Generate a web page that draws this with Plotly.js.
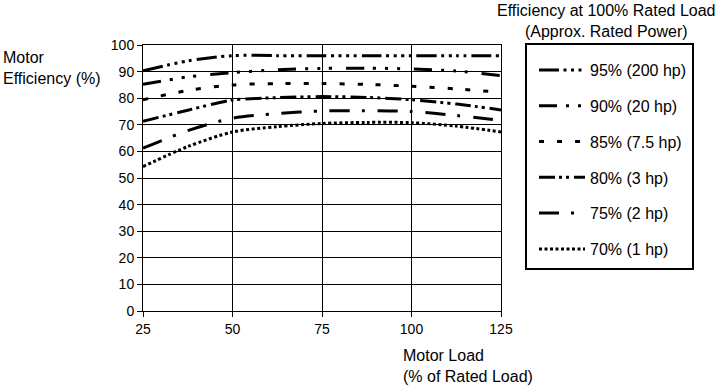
<!DOCTYPE html>
<html>
<head>
<meta charset="utf-8">
<script src="https://cdn.plot.ly/plotly-3.0.1.min.js"></script>
<style>html,body{margin:0;padding:0;background:#fff;}#chart{width:722px;height:385px;}</style>
</head>
<body>
<div id="chart"></div>
<script>
// Data
const motorLoad = [25, 37.5, 50, 62.5, 75, 87.5, 100, 112.5, 125];
const seriesNames = ["95% (200 hp)", "90% (20 hp)", "85% (7.5 hp)", "80% (3 hp)", "75% (2 hp)", "70% (1 hp)"];
const eff95 = [90.3, 94.0, 96.0, 96.0, 96.0, 96.0, 96.0, 96.0, 96.0];
const eff90 = [85.2, 88.0, 89.6, 90.7, 91.2, 91.3, 91.0, 90.2, 88.5];
const eff85 = [79.4, 82.9, 85.0, 85.5, 85.5, 85.2, 84.5, 83.5, 82.2];
const eff80 = [71.3, 75.5, 79.3, 80.2, 80.6, 80.3, 79.4, 77.8, 75.6];
const eff75 = [61.2, 67.8, 72.5, 74.2, 75.2, 75.3, 75.0, 73.5, 71.6];
const eff70 = [54.3, 61.8, 67.3, 69.3, 70.5, 70.9, 70.8, 69.5, 67.3];
const xTicks = [25, 50, 75, 100, 125];
const yTicks = [0, 10, 20, 30, 40, 50, 60, 70, 80, 90, 100];

const seriesValues = [eff95, eff90, eff85, eff80, eff75, eff70];
const dashes = [
  "20px,4.5px,3px,4.5px,3px,4.5px,3px,4.5px,3px,5px",
  "18px,9px,3px,9px,3px,9px,3px,14px",
  "5px,13px",
  "16px,4px,3px,4px,3px,5px",
  "20px,12px,3px,13px",
  "3px,2.5px"
];

const FONT = "Liberation Sans, Arial, Helvetica, sans-serif";

const traces = seriesValues.map((vals, i) => ({
  type: "scatter",
  mode: "lines",
  x: motorLoad,
  y: vals,
  name: seriesNames[i],
  legendgroup: "g" + i,
  line: {color: "#000", width: 3, dash: dashes[i], shape: "spline", smoothing: 0.8},
  hoverinfo: "x+y+name"
}));

const L = 143, R = 221, T = 45, B = 74;
const W = 722 - L - R, H = 385 - T - B;
const px = (x) => (x - L) / W;
const py = (y) => (385 - B - y) / H;

const layout = {
  width: 722, height: 385,
  margin: {l: L, r: R, t: T, b: B, pad: 0},
  paper_bgcolor: "#fff", plot_bgcolor: "#fff",
  font: {family: FONT, size: 14, color: "#000"},
  showlegend: true,
  legend: {
    x: px(534), y: py(53), xanchor: "left", yanchor: "top",
    bgcolor: "rgba(0,0,0,0)", borderwidth: 0,
    font: {family: FONT, size: 16, color: "#000"},
    traceorder: "grouped", tracegroupgap: 12, itemwidth: 46
  },
  xaxis: {
    range: [25, 125], tickvals: xTicks, ticktext: xTicks.map(String),
    showgrid: true, gridcolor: "#000", gridwidth: 1,
    showline: true, linecolor: "#000", linewidth: 1, mirror: true,
    ticks: "outside", ticklen: 5, tickcolor: "#000", tickwidth: 1,
    zeroline: false, fixedrange: true,
    tickfont: {family: FONT, size: 14, color: "#000"}
  },
  yaxis: {
    range: [0, 100], tickvals: yTicks, ticktext: yTicks.map(String),
    showgrid: true, gridcolor: "#000", gridwidth: 1,
    showline: true, linecolor: "#000", linewidth: 1, mirror: true,
    ticks: "outside", ticklen: 5, tickcolor: "#000", tickwidth: 1,
    zeroline: false, fixedrange: true,
    tickfont: {family: FONT, size: 14, color: "#000"}
  },
  shapes: [{
    type: "rect", xref: "paper", yref: "paper",
    x0: px(526), x1: px(693), y0: py(269), y1: py(44),
    line: {color: "#000", width: 2}, fillcolor: "rgba(0,0,0,0)"
  }],
  annotations: [
    {xref: "paper", yref: "paper", x: px(1), y: py(47), xanchor: "left", yanchor: "top",
     align: "left", showarrow: false, text: "Motor<br>Efficiency (%)",
     font: {family: FONT, size: 16, color: "#000"}},
    {xref: "paper", yref: "paper", x: px(401), y: py(345), xanchor: "left", yanchor: "top",
     align: "left", showarrow: false, text: "Motor Load<br>(% of Rated Load)",
     font: {family: FONT, size: 16, color: "#000"}},
    {xref: "paper", yref: "paper", x: px(606.5), y: py(0), xanchor: "center", yanchor: "top",
     align: "center", showarrow: false, text: "Efficiency at 100% Rated Load<br>(Approx. Rated Power)",
     font: {family: FONT, size: 16, color: "#000"}}
  ]
};

Plotly.newPlot("chart", traces, layout, {displayModeBar: false, staticPlot: true});
</script>
</body>
</html>
